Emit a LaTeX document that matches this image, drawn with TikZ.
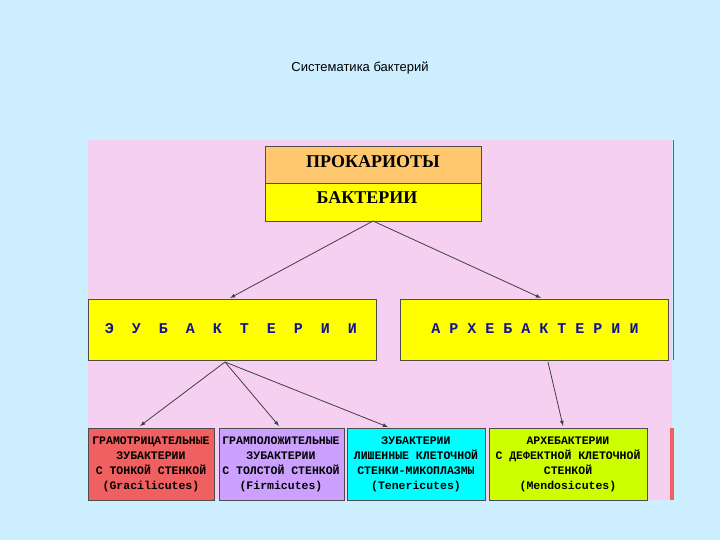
\documentclass[tikz,border=0pt]{standalone}
\usepackage{fontspec}
\setmainfont{Liberation Serif}
\setsansfont{Liberation Sans}
\setmonofont{Liberation Mono}
\definecolor{bgc}{RGB}{204,238,255}
\definecolor{pinkc}{RGB}{246,208,240}
\definecolor{orc}{RGB}{255,200,110}
\definecolor{redc}{RGB}{240,96,96}
\definecolor{purc}{RGB}{204,160,255}
\definecolor{limc}{RGB}{204,255,0}
\definecolor{cyc}{RGB}{0,255,255}
\definecolor{yelc}{RGB}{255,255,0}
\definecolor{txtb}{RGB}{20,20,140}
\begin{document}
\begin{tikzpicture}[x=1pt,y=-1pt,
  box/.style={draw=black!70,line width=0.8pt,anchor=north west,inner sep=0pt},
  arr/.style={-latex,draw=black!75,line width=0.8pt},
  small/.style={font=\ttfamily\bfseries\fontsize{11.5}{15}\selectfont,align=center,inner sep=0pt}]
\useasboundingbox (0,0) rectangle (720,540);
\fill[bgc] (0,0) rectangle (720,540);
\node (title) at (360,68) {\sffamily\fontsize{13}{15}\selectfont Систематика бактерий};
\fill[pinkc] (88,140) rectangle (672,500);
\draw[black!60] (673,140) -- (673,360);
\fill[redc] (670,428) rectangle (674,500);
% top
\node[box,fill=orc,minimum width=216pt,minimum height=37pt] (prok) at (265,146) {};
\node[font=\bfseries\fontsize{18}{20}\selectfont] (tp) at (373,162) {ПРОКАРИОТЫ};
\node[box,fill=yelc,minimum width=216pt,minimum height=38pt] (bak) at (265,183) {};
\node[font=\bfseries\fontsize{18}{20}\selectfont] (tb) at (367,198) {БАКТЕРИИ};
% middle
\node[box,fill=yelc,minimum width=288pt,minimum height=61pt] (eub) at (88,299) {};
\node[font=\ttfamily\bfseries\fontsize{15}{17}\selectfont,text=txtb] (te) at (231,329) {Э\ \ У\ \ Б\ \ А\ \ К\ \ Т\ \ Е\ \ Р\ \ И\ \ И};
\node[box,fill=yelc,minimum width=268pt,minimum height=61pt] (arh) at (400,299) {};
\node[font=\ttfamily\bfseries\fontsize{15}{17}\selectfont,text=txtb] (ta) at (535,329) {А Р Х Е Б А К Т Е Р И И};
% bottom
\node[box,fill=redc,minimum width=126pt,minimum height=72pt] (g1) at (88,428) {};
\node[small] (t1) at (151,464) {ГРАМОТРИЦАТЕЛЬНЫЕ\\ЗУБАКТЕРИИ\\С ТОНКОЙ СТЕНКОЙ\\(Gracilicutes)};
\node[box,fill=purc,minimum width=125pt,minimum height=72pt] (g2) at (219,428) {};
\node[small] (t2) at (281,464) {ГРАМПОЛОЖИТЕЛЬНЫЕ\\ЗУБАКТЕРИИ\\С ТОЛСТОЙ СТЕНКОЙ\\(Firmicutes)};
\node[box,fill=cyc,minimum width=138pt,minimum height=72pt] (g3) at (347,428) {};
\node[small] (t3) at (416,464) {ЗУБАКТЕРИИ\\ЛИШЕННЫЕ КЛЕТОЧНОЙ\\СТЕНКИ-МИКОПЛАЗМЫ\\(Tenericutes)};
\node[box,fill=limc,minimum width=158pt,minimum height=72pt] (g4) at (489,428) {};
\node[small] (t4) at (568,464) {АРХЕБАКТЕРИИ\\С ДЕФЕКТНОЙ КЛЕТОЧНОЙ\\СТЕНКОЙ\\(Mendosicutes)};
% arrows
\coordinate (t) at (373,221);
\coordinate (e) at (225,362);
\coordinate (a) at (548,362);
\draw[arr] (t) -- (230,298);
\draw[arr] (t) -- (541,298);
\draw[arr] (e) -- (140,426);
\draw[arr] (e) -- (279,426);
\draw[arr] (e) -- (388,427);
\draw[arr] (a) -- (563,426);
\end{tikzpicture}
\end{document}
